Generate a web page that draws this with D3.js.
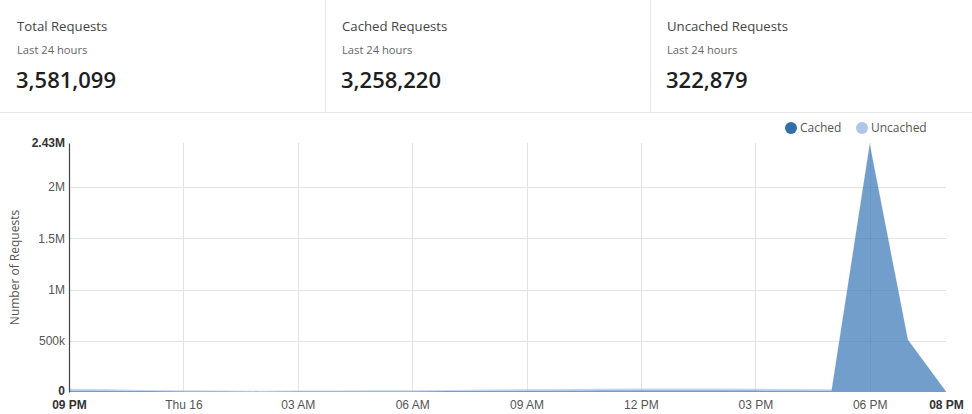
<!DOCTYPE html>
<html>
<head>
<meta charset="utf-8">
<script src="https://cdn.jsdelivr.net/npm/d3@7"></script>
<style>
  html, body { margin: 0; padding: 0; background: #fff; }
  svg { display: block; font-family: "Open Sans", "Noto Sans", sans-serif; }
</style>
</head>
<body>
<svg id="chart" width="972" height="414"></svg>
<script>
// ---- data ----
const cardTitles = ["Total Requests", "Cached Requests", "Uncached Requests"];
const cardSubtitle = "Last 24 hours";
const cardValues = [3581099, 3258220, 322879];

const times = [
  "2023-11-15T21:00", "2023-11-15T22:00", "2023-11-15T23:00",
  "2023-11-16T00:00", "2023-11-16T01:00", "2023-11-16T02:00",
  "2023-11-16T03:00", "2023-11-16T04:00", "2023-11-16T05:00",
  "2023-11-16T06:00", "2023-11-16T07:00", "2023-11-16T08:00",
  "2023-11-16T09:00", "2023-11-16T10:00", "2023-11-16T11:00",
  "2023-11-16T12:00", "2023-11-16T13:00", "2023-11-16T14:00",
  "2023-11-16T15:00", "2023-11-16T16:00", "2023-11-16T17:00",
  "2023-11-16T18:00", "2023-11-16T19:00", "2023-11-16T20:00"
];
const cached = [
  15000, 14000, 10000, 8000, 7000, 6000, 7000, 7000,
  8000, 8000, 10000, 12000, 14000, 15000, 16000, 18000,
  18000, 17000, 16000, 15000, 14000, 2420000, 510000, 6000
];
const uncached = [
  16000, 13000, 10000, 8000, 7000, 7000, 7000, 8000,
  8000, 9000, 10000, 12000, 14000, 15000, 16000, 16000,
  17000, 16000, 15000, 14000, 13000, 10000, 7000, 2000
];
const seriesNames = ["Cached", "Uncached"];
const seriesColors = ["#3a78b5", "#aec7e8"];

const yTicks = [0, 500000, 1000000, 1500000, 2000000, 2430000];
const yTickLabels = ["0", "500k", "1M", "1.5M", "2M", "2.43M"];
const xTickTimes = [
  "2023-11-15T21:00", "2023-11-16T00:00", "2023-11-16T03:00",
  "2023-11-16T06:00", "2023-11-16T09:00", "2023-11-16T12:00",
  "2023-11-16T15:00", "2023-11-16T18:00", "2023-11-16T20:00"
];
const xTickLabels = ["09 PM", "Thu 16", "03 AM", "06 AM", "09 AM", "12 PM", "03 PM", "06 PM", "08 PM"];
const yAxisTitle = "Number of Requests";

// ---- build ----
const svg = d3.select("#chart");
const W = 972, H = 414;
const parse = d3.timeParse("%Y-%m-%dT%H:%M");

// cards
const cardW = 325, cardH = 112;
svg.append("rect").attr("x", 0).attr("y", 0).attr("width", W).attr("height", H).attr("fill", "#fff");
const cards = svg.append("g");
cardTitles.forEach((t, i) => {
  const g = cards.append("g").attr("transform", `translate(${i * cardW},0)`);
  g.append("text").attr("x", 17).attr("y", 31).attr("font-size", 13.2).attr("fill", "#444").text(t);
  g.append("text").attr("x", 17).attr("y", 54).attr("font-size", 11.2).attr("fill", "#666").text(cardSubtitle);
  g.append("text").attr("x", 16).attr("y", 88).attr("font-size", 22).attr("font-weight", 600)
    .attr("fill", "#1e1e1e")
    .text(d3.format(",")(cardValues[i]));
  if (i > 0) {
    cards.append("line").attr("x1", i * cardW + 0.5).attr("x2", i * cardW + 0.5)
      .attr("y1", 0).attr("y2", cardH).attr("stroke", "#e6e6e6");
  }
});
cards.append("line").attr("x1", 0).attr("x2", W).attr("y1", cardH + 0.5).attr("y2", cardH + 0.5)
  .attr("stroke", "#e6e6e6");

// chart
const mLeft = 69, mRight = 946, mTop = 143, mBottom = 392;
const data = times.map((t, i) => ({ t: parse(t), Cached: cached[i], Uncached: uncached[i] }));
const x = d3.scaleTime().domain([parse(times[0]), parse(times[times.length - 1])]).range([mLeft, mRight]);
const y = d3.scaleLinear().domain([0, yTicks[yTicks.length - 1]]).range([mBottom, mTop]);

// grid
const grid = svg.append("g");
grid.selectAll("line.h").data(yTicks.slice(1, -1)).join("line")
  .attr("x1", mLeft).attr("x2", mRight)
  .attr("y1", d => Math.round(y(d)) + 0.5).attr("y2", d => Math.round(y(d)) + 0.5)
  .attr("stroke", "#e3e3e3");
grid.selectAll("line.v").data(xTickTimes.slice(1, -1)).join("line")
  .attr("x1", d => Math.round(x(parse(d))) + 0.5).attr("x2", d => Math.round(x(parse(d))) + 0.5)
  .attr("y1", mTop).attr("y2", mBottom)
  .attr("stroke", "#e3e3e3");

// stacked areas
const stack = d3.stack().keys(seriesNames);
const layers = stack(data);
const area = d3.area().x(d => x(d.data.t)).y0(d => y(d[0])).y1(d => y(d[1]));
svg.append("g").selectAll("path").data(layers).join("path")
  .attr("d", area)
  .attr("fill", (d, i) => seriesColors[i])
  .attr("fill-opacity", 0.72);

// y axis
const yAxis = d3.axisLeft(y).tickValues(yTicks).tickSize(0).tickPadding(4)
  .tickFormat((d, i) => yTickLabels[i]);
const yg = svg.append("g").attr("transform", `translate(${mLeft},0)`).call(yAxis);
yg.select(".domain").attr("stroke", "#444").attr("stroke-width", 1.2);
yg.selectAll("text").attr("font-size", 12).attr("font-family", null)
  .attr("dy", (d, i) => i === 0 ? "0.2em" : "0.32em")
  .attr("font-weight", (d, i) => (i === 0 || i === yTicks.length - 1) ? "bold" : null)
  .attr("fill", (d, i) => (i === 0 || i === yTicks.length - 1) ? "#333" : "#555");

// x axis
const xAxis = d3.axisBottom(x).tickValues(xTickTimes.map(parse)).tickSize(0).tickPadding(8)
  .tickFormat((d, i) => xTickLabels[i]);
const xg = svg.append("g").attr("transform", `translate(0,${mBottom})`).call(xAxis);
xg.select(".domain").remove();
xg.selectAll("text").attr("font-size", 12).attr("font-family", null)
  .attr("font-weight", (d, i) => (i === 0 || i === xTickTimes.length - 1) ? "bold" : null)
  .attr("fill", (d, i) => (i === 0 || i === xTickTimes.length - 1) ? "#333" : "#555");

// y title
svg.append("text").attr("transform", `translate(19,${(mTop + mBottom) / 2}) rotate(-90)`)
  .attr("text-anchor", "middle").attr("font-size", 12).attr("fill", "#555").text(yAxisTitle);

// legend
const legendX = [791, 862];
const lg = svg.append("g");
seriesNames.forEach((n, i) => {
  lg.append("circle").attr("cx", legendX[i]).attr("cy", 128).attr("r", 6)
    .attr("fill", i === 0 ? "#336ea8" : "#aec7e8");
  lg.append("text").attr("x", legendX[i] + 9).attr("y", 132).attr("font-size", 12)
    .attr("fill", "#555").text(n);
});
</script>
</body>
</html>
